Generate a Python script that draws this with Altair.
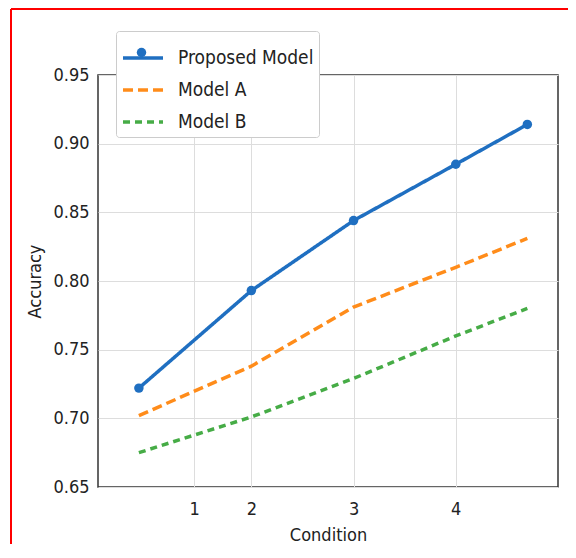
import altair as alt
import pandas as pd

# ---- data ----
conditions = [0.9, 2, 3, 4, 4.7]
proposed = [0.722, 0.793, 0.844, 0.885, 0.914]
model_a = [0.702, 0.738, 0.781, 0.810, 0.831]
model_b = [0.675, 0.701, 0.729, 0.760, 0.780]
series_names = ["Proposed Model", "Model A", "Model B"]
series_colors = ["#1f6fc1", "#ff8c1a", "#46ac46"]
series_dashes = [[1, 0], [10, 5], [7, 5]]
x_tick_positions = [1.44, 2, 3, 4]
x_tick_labels = ["1", "2", "3", "4"]
y_ticks = [0.65, 0.70, 0.75, 0.80, 0.85, 0.90, 0.95]

rows = []
for name, vals in zip(series_names, [proposed, model_a, model_b]):
    for c, v in zip(conditions, vals):
        rows.append({"condition": c, "accuracy": v, "series": name})
df = pd.DataFrame(rows)

FONT = "'DejaVu Sans Condensed', 'DejaVu Sans'"

label_map = "{" + ",".join(f"'{p}':'{l}'" for p, l in zip(x_tick_positions, x_tick_labels)) + "}"

x_enc = alt.X(
    "condition:Q",
    title="Condition",
    scale=alt.Scale(domain=[0.5, 5.0], nice=False, zero=False),
    axis=alt.Axis(values=x_tick_positions, labelExpr=f"{label_map}[toString(datum.value)]"),
)
y_enc = alt.Y(
    "accuracy:Q",
    title="Accuracy",
    scale=alt.Scale(domain=[0.65, 0.95], nice=False, zero=False),
    axis=alt.Axis(values=y_ticks, format=".2f"),
)

color_scale = alt.Scale(domain=series_names, range=series_colors)

lines = alt.Chart(df).mark_line(strokeWidth=3.5).encode(
    x=x_enc,
    y=y_enc,
    color=alt.Color(
        "series:N",
        scale=color_scale,
        sort=series_names,
        legend=alt.Legend(
            title=None,
            orient="none",
            legendX=18,
            legendY=-44,
            padding=5,
            symbolType="stroke",
            symbolSize=1600,
            symbolStrokeWidth=3.5,
            rowPadding=-5,
            labelOffset=13,
            labelFontSize=19,
            labelFont=FONT,
            labelColor="#222222",
            fillColor="white",
            strokeColor="#cccccc",
            cornerRadius=3,
        ),
    ),
    strokeDash=alt.StrokeDash(
        "series:N",
        scale=alt.Scale(domain=series_names, range=series_dashes),
        sort=series_names,
    ),
)

points = (
    alt.Chart(df)
    .transform_filter(alt.datum.series == series_names[0])
    .transform_calculate(mk="'dot'")
    .mark_point(filled=True, size=90, opacity=1, color=series_colors[0])
    .encode(
        x=x_enc,
        y=y_enc,
        shape=alt.Shape(
            "mk:N",
            scale=alt.Scale(range=["circle"]),
            legend=alt.Legend(
                title=None,
                orient="none",
                legendX=38,
                legendY=-28,
                padding=0,
                labelExpr="''",
                labelFontSize=9,
                symbolSize=90,
                symbolFillColor=series_colors[0],
                symbolStrokeColor=series_colors[0],
                symbolOpacity=1,
            ),
        ),
    )
)

# decorative red page border (left and top edges only, as in the reference)
border_df = pd.DataFrame({"f": [0]})
border_left = alt.Chart(border_df).mark_rule(color="#ff0000", strokeWidth=2).encode(
    x=alt.value(-87), y=alt.value(-66), y2=alt.value(480)
)
border_top = alt.Chart(border_df).mark_rule(color="#ff0000", strokeWidth=2).encode(
    x=alt.value(-87), x2=alt.value(480), y=alt.value(-66)
)

chart = (
    alt.layer(lines, points, border_left, border_top)
    .properties(
        width=460,
        height=412,
        autosize=alt.AutoSizeParams(type="none"),
        padding={"left": 90, "top": 67, "right": 10, "bottom": 57},
        background="white",
    )
    .configure_view(stroke="#333333", strokeWidth=1.5)
    .configure_axis(
        grid=True,
        gridColor="#dddddd",
        gridWidth=1,
        domain=False,
        ticks=False,
        labelFont=FONT,
        labelFontSize=18,
        labelColor="#222222",
        titleFont=FONT,
        titleFontSize=18,
        titleFontWeight="normal",
        titleColor="#222222",
    )
    .configure_axisY(labelPadding=9, titlePadding=8)
    .configure_axisX(labelPadding=13, titlePadding=8)
)

chart.save("out.html", embed_options={"renderer": "svg", "actions": False})
